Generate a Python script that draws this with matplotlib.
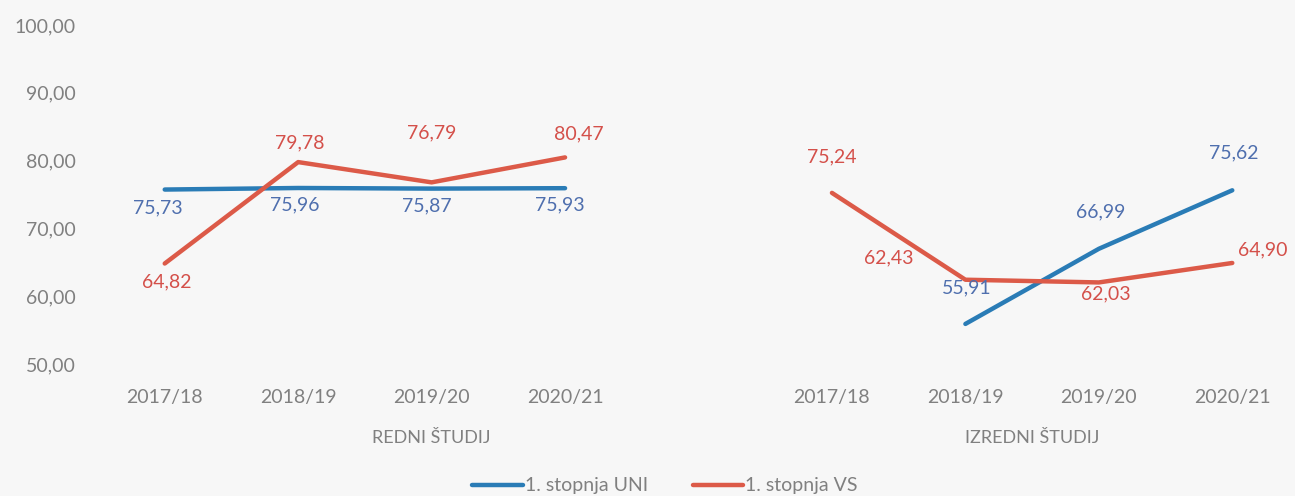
import matplotlib.pyplot as plt
import numpy as np

# podatki
leta = ["2017/18", "2018/19", "2019/20", "2020/21"]
skupine = ["REDNI ŠTUDIJ", "IZREDNI ŠTUDIJ"]
uni_redni = [75.73, 75.96, 75.87, 75.93]
uni_izredni = [np.nan, 55.91, 66.99, 75.62]
vs_redni = [64.82, 79.78, 76.79, 80.47]
vs_izredni = [75.24, 62.43, 62.03, 64.90]

MODRA = "#2a7cb6"
RDECA = "#dc5a48"
MODRA_TXT = "#4f6fae"
RDECA_TXT = "#d4504a"
SIVA = "#808080"
OZADJE = "#f7f7f7"

plt.rcParams['font.family'] = ['Lato', 'DejaVu Sans']

fig = plt.figure(figsize=(12.95, 4.96), dpi=100, facecolor=OZADJE)
ax = fig.add_axes([98 / 1295, 1 - 364 / 496, 1197 / 1295, (364 - 25) / 496])
ax.set_facecolor(OZADJE)

# x pozicije: redni 0..3, prazno 4, izredni 5..8
x_redni = np.arange(4)
x_izredni = np.arange(4) + 5

ax.plot(x_redni, uni_redni, color=MODRA, lw=3.2, solid_capstyle='round', label="1. stopnja UNI")
ax.plot(x_izredni, uni_izredni, color=MODRA, lw=3.2, solid_capstyle='round')
ax.plot(x_redni, vs_redni, color=RDECA, lw=3.2, solid_capstyle='round', label="1. stopnja VS")
ax.plot(x_izredni, vs_izredni, color=RDECA, lw=3.2, solid_capstyle='round')

# odmiki oznak v pikslih (dx, dy)
odm_uni_redni = [(-7, -18), (-3, -17), (-5, -17), (-5, -17)]
odm_vs_redni = [(2, -18), (2, 19), (0, 49), (14, 24)]
odm_uni_izredni = [None, (1, 36), (2, 37), (1, 37)]
odm_vs_izredni = [(0, 36), (-77, 22), (7, -11), (30, 13)]


def oznake(xs, ys, odm, barva):
    for x, y, o in zip(xs, ys, odm):
        if o is None or np.isnan(y):
            continue
        ax.annotate(f"{y:.2f}".replace(".", ","), (x, y), xytext=o,
                    textcoords="offset pixels", ha="center", va="center",
                    fontsize=14, color=barva)


oznake(x_redni, uni_redni, odm_uni_redni, MODRA_TXT)
oznake(x_redni, vs_redni, odm_vs_redni, RDECA_TXT)
oznake(x_izredni, uni_izredni, odm_uni_izredni, MODRA_TXT)
oznake(x_izredni, vs_izredni, odm_vs_izredni, RDECA_TXT)

ax.set_ylim(50, 100)
ax.set_xlim(-0.5, 8.47)
ax.set_yticks(np.arange(50, 101, 10))
ax.set_yticklabels([f"{v:.2f}".replace(".", ",") for v in np.arange(50, 101, 10)],
                   fontsize=14, color=SIVA)
ax.set_xticks(list(x_redni) + list(x_izredni))
ax.set_xticklabels(leta + leta, fontsize=14, color=SIVA)
ax.tick_params(axis='y', length=0, pad=16)
ax.tick_params(axis='x', length=0, pad=18)
for s in ax.spines.values():
    s.set_visible(False)

# imena skupin (redni zajema tudi prazen stolpec)
for pos, ime in zip([2, 6.5], skupine):
    ax.annotate(ime, (pos, 0), xycoords=("data", "axes fraction"),
                xytext=(0, -(438 - 364)), textcoords="offset pixels",
                ha="center", va="center", fontsize=13, color=SIVA)

leg = fig.legend(loc="center", bbox_to_anchor=(665 / 1295, 1 - 486 / 496), ncol=2,
                 frameon=False, fontsize=14, handlelength=2.6, handletextpad=0.1,
                 columnspacing=2.3)
for t in leg.get_texts():
    t.set_color(SIVA)

fig.savefig("out.png", dpi=100, facecolor=OZADJE)
